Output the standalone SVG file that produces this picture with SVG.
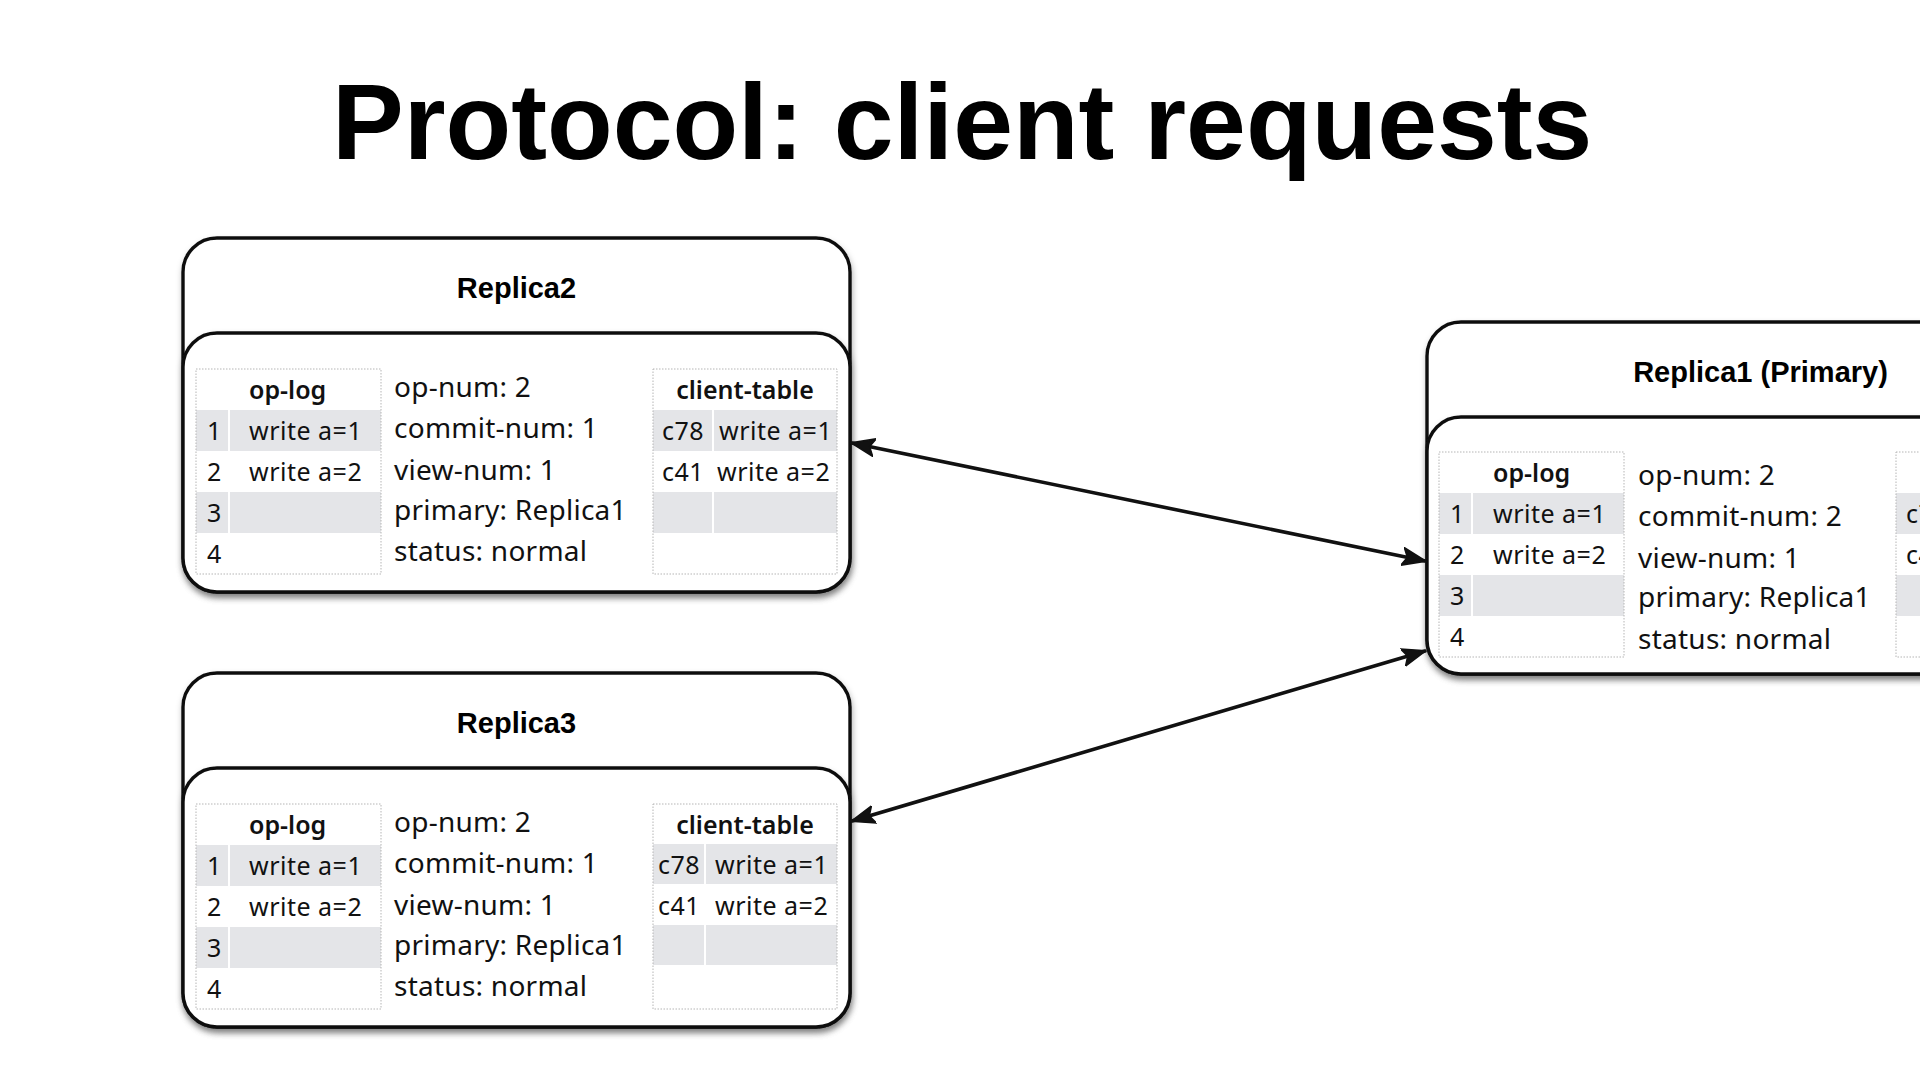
<svg xmlns="http://www.w3.org/2000/svg" width="1920" height="1080" viewBox="0 0 1920 1080">
<defs>
<filter id="sh" x="-10%" y="-10%" width="120%" height="130%">
<feDropShadow dx="1" dy="4" stdDeviation="3" flood-color="#000" flood-opacity="0.3"/>
</filter>
<marker id="ah" viewBox="0 0 24 20" refX="23" refY="10" markerWidth="24" markerHeight="20" markerUnits="userSpaceOnUse" orient="auto-start-reverse">
<path d="M0,1 L24,10 L0,19 L5,10 Z" fill="#111" stroke="#111" stroke-width="1.5" stroke-linejoin="round"/>
</marker>
</defs>
<style>
.box{fill:#fff;stroke:#111;stroke-width:3.4}
.title{font-family:"Liberation Sans",Arial,sans-serif;font-weight:bold;font-size:29px;fill:#000;text-anchor:middle}
.hdr{font-family:"Noto Sans",sans-serif;font-weight:600;font-size:25px;fill:#111}
.cell{font-family:"Noto Sans",sans-serif;font-size:25px;letter-spacing:0.5px;fill:#111}
.mid{font-family:"Noto Sans",sans-serif;font-size:28px;letter-spacing:0.25px;fill:#111}
.tbl{fill:none;stroke:#b5b5b5;stroke-width:1;stroke-dasharray:1.5 1.5}
.gray{fill:#e4e5e8}
.sep{stroke:#fff;stroke-width:2}
.conn{fill:none;stroke:#111;stroke-width:3.6;stroke-linecap:round}
</style>
<rect width="1920" height="1080" fill="#fff"/>
<text x="332" y="159" font-family="Liberation Sans,Arial,sans-serif" font-weight="bold" font-size="107.5" fill="#000">Protocol: client requests</text>

<g id="replica2" transform="translate(183,238)">
<rect class="box" filter="url(#sh)" x="0" y="0" width="667" height="354" rx="34"/>
<rect class="box" filter="url(#sh)" x="0" y="95" width="667" height="259" rx="34"/>
<text class="title" x="333.5" y="60">Replica2</text>
<rect class="gray" x="13" y="172" width="185" height="41"/>
<rect class="gray" x="13" y="254" width="185" height="41"/>
<line class="sep" x1="46" y1="172" x2="46" y2="213"/>
<line class="sep" x1="46" y1="254" x2="46" y2="295"/>
<rect class="tbl" x="13" y="131" width="185" height="205"/>
<text class="hdr" x="66" y="161">op-log</text>
<text class="cell" x="24" y="202">1</text><text class="cell" x="66" y="202">write a=1</text>
<text class="cell" x="24" y="243">2</text><text class="cell" x="66" y="243">write a=2</text>
<text class="cell" x="24" y="284">3</text>
<text class="cell" x="24" y="325">4</text>
<text class="mid" x="211" y="159">op-num: 2</text>
<text class="mid" x="211" y="200">commit-num: 1</text>
<text class="mid" x="211" y="242">view-num: 1</text>
<text class="mid" x="211" y="282">primary: Replica1</text>
<text class="mid" x="211" y="323">status: normal</text>
<rect class="gray" x="470" y="172" width="184" height="41"/>
<rect class="gray" x="470" y="254" width="184" height="41"/>
<line class="sep" x1="530" y1="172" x2="530" y2="213"/>
<line class="sep" x1="530" y1="254" x2="530" y2="295"/>
<rect class="tbl" x="470" y="131" width="184" height="205"/>
<text class="hdr" x="562" y="161" text-anchor="middle">client-table</text>
<text class="cell" x="479" y="202">c78</text><text class="cell" x="536" y="202">write a=1</text>
<text class="cell" x="479" y="243">c41</text><text class="cell" x="534" y="243">write a=2</text>
</g>

<g id="replica3" transform="translate(183,673)">
<rect class="box" filter="url(#sh)" x="0" y="0" width="667" height="354" rx="34"/>
<rect class="box" filter="url(#sh)" x="0" y="95" width="667" height="259" rx="34"/>
<text class="title" x="333.5" y="60">Replica3</text>
<rect class="gray" x="13" y="172" width="185" height="41"/>
<rect class="gray" x="13" y="254" width="185" height="41"/>
<line class="sep" x1="46" y1="172" x2="46" y2="213"/>
<line class="sep" x1="46" y1="254" x2="46" y2="295"/>
<rect class="tbl" x="13" y="131" width="185" height="205"/>
<text class="hdr" x="66" y="161">op-log</text>
<text class="cell" x="24" y="202">1</text><text class="cell" x="66" y="202">write a=1</text>
<text class="cell" x="24" y="243">2</text><text class="cell" x="66" y="243">write a=2</text>
<text class="cell" x="24" y="284">3</text>
<text class="cell" x="24" y="325">4</text>
<text class="mid" x="211" y="159">op-num: 2</text>
<text class="mid" x="211" y="200">commit-num: 1</text>
<text class="mid" x="211" y="242">view-num: 1</text>
<text class="mid" x="211" y="282">primary: Replica1</text>
<text class="mid" x="211" y="323">status: normal</text>
<rect class="gray" x="470" y="171" width="184" height="40"/>
<rect class="gray" x="470" y="252" width="184" height="40"/>
<line class="sep" x1="522" y1="171" x2="522" y2="211"/>
<line class="sep" x1="522" y1="252" x2="522" y2="292"/>
<rect class="tbl" x="470" y="131" width="184" height="205"/>
<text class="hdr" x="562" y="161" text-anchor="middle">client-table</text>
<text class="cell" x="475" y="201">c78</text><text class="cell" x="532" y="201">write a=1</text>
<text class="cell" x="475" y="242">c41</text><text class="cell" x="532" y="242">write a=2</text>
</g>

<g id="replica1" transform="translate(1427,322)">
<rect class="box" filter="url(#sh)" x="0" y="0" width="667" height="352" rx="34"/>
<rect class="box" filter="url(#sh)" x="0" y="95" width="667" height="257" rx="34"/>
<text class="title" x="333.5" y="60">Replica1 (Primary)</text>
<rect class="gray" x="12" y="171" width="185" height="41"/>
<rect class="gray" x="12" y="253" width="185" height="41"/>
<line class="sep" x1="45" y1="171" x2="45" y2="212"/>
<line class="sep" x1="45" y1="253" x2="45" y2="294"/>
<rect class="tbl" x="12" y="130" width="185" height="205"/>
<text class="hdr" x="66" y="160">op-log</text>
<text class="cell" x="23" y="201">1</text><text class="cell" x="66" y="201">write a=1</text>
<text class="cell" x="23" y="242">2</text><text class="cell" x="66" y="242">write a=2</text>
<text class="cell" x="23" y="283">3</text>
<text class="cell" x="23" y="324">4</text>
<text class="mid" x="211" y="163">op-num: 2</text>
<text class="mid" x="211" y="204">commit-num: 2</text>
<text class="mid" x="211" y="246">view-num: 1</text>
<text class="mid" x="211" y="285">primary: Replica1</text>
<text class="mid" x="211" y="327">status: normal</text>
<rect class="gray" x="469" y="171" width="184" height="41"/>
<rect class="gray" x="469" y="253" width="184" height="41"/>
<rect class="tbl" x="469" y="130" width="184" height="205"/>
<text class="cell" x="479" y="201">c78</text>
<text class="cell" x="479" y="242">c41</text>
</g>

<g id="connectors">
<line class="conn" x1="852" y1="443" x2="1425" y2="561" marker-start="url(#ah)" marker-end="url(#ah)"/>
<line class="conn" x1="1425" y1="651" x2="852" y2="821" marker-start="url(#ah)" marker-end="url(#ah)"/>
</g>
</svg>
